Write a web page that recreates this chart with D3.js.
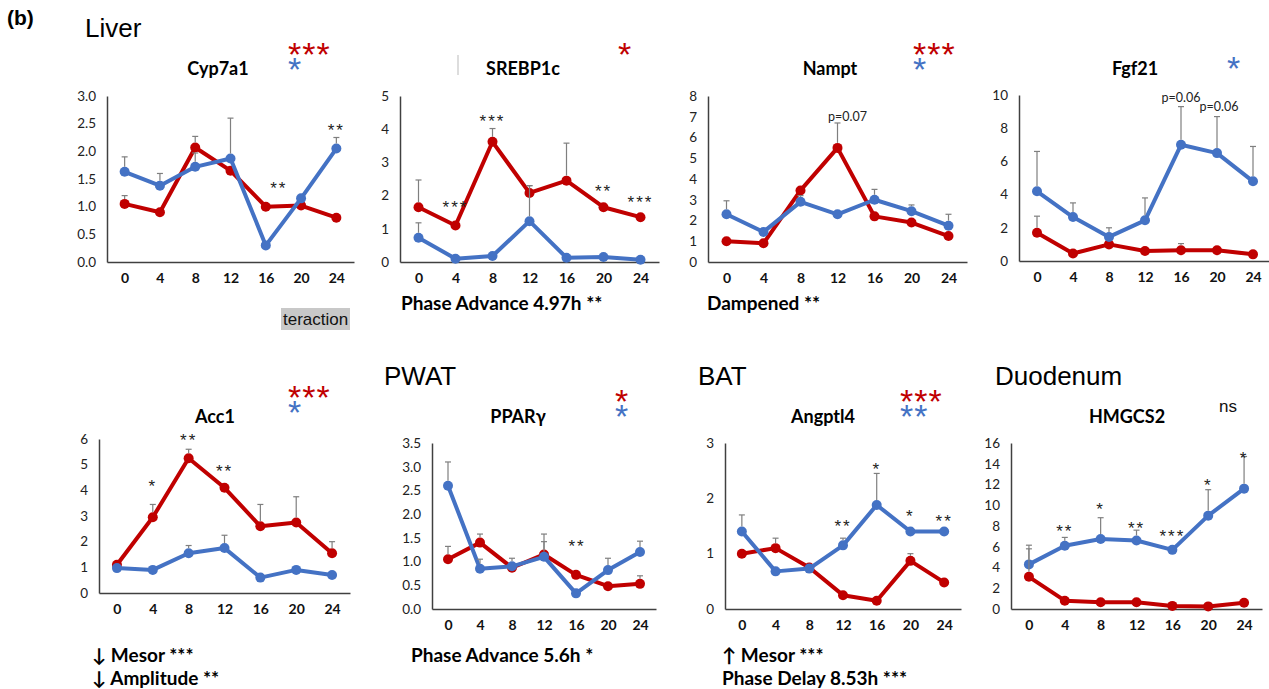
<!DOCTYPE html>
<html><head><meta charset="utf-8">
<script src="https://cdn.jsdelivr.net/npm/d3@7"></script>
<style>body{margin:0;background:#fff} svg{display:block}</style>
</head><body><svg id="c" width="1269" height="689"></svg>
<script>
// ---------- DATA ----------
const times = [0, 4, 8, 12, 16, 20, 24];

// Cyp7a1 (Liver)
const cyp7a1Red = [1.05, 0.90, 2.07, 1.65, 1.00, 1.02, 0.80];
const cyp7a1Blue = [1.63, 1.38, 1.72, 1.87, 0.30, 1.15, 2.05];
const cyp7a1RedErr = [0.15, 0.10, 0.20, 0.05, 0.07, 0.03, 0.05];
const cyp7a1BlueErr = [0.27, 0.22, 0.25, 0.73, 0, 0.08, 0.20];
const cyp7a1Ticks = [0, 0.5, 1.0, 1.5, 2.0, 2.5, 3.0];
const cyp7a1Sig = [[16, 1.4, "**", 13], [24, 2.44, "**", 0]];

// SREBP1c (Liver)
const srebpRed = [1.65, 1.10, 3.62, 2.08, 2.45, 1.65, 1.35];
const srebpBlue = [0.73, 0.10, 0.18, 1.23, 0.13, 0.15, 0.07];
const srebpRedErr = [0.82, 0.05, 0.40, 0.22, 1.13, 0.17, 0.12];
const srebpBlueErr = [0.45, 0, 0, 1.07, 0, 0, 0];
const srebpTicks = [0, 1, 2, 3, 4, 5];
const srebpSig = [[4, 1.75, "***", 0], [8, 4.34, "***", 0], [20, 2.23, "**", 0], [24, 1.9, "***", 0]];

// Nampt (Liver)
const namptRed = [1.00, 0.90, 3.45, 5.50, 2.20, 1.90, 1.25];
const namptBlue = [2.30, 1.45, 2.90, 2.30, 3.00, 2.45, 1.75];
const namptRedErr = [0.05, 0.05, 0.10, 1.20, 0.25, 0.05, 0.15];
const namptBlueErr = [0.65, 0.20, 0.30, 0.20, 0.50, 0.30, 0.55];
const namptTicks = [0, 1, 2, 3, 4, 5, 6, 7, 8];
const namptSig = [];
const namptP = [[12, 7.0, "p=0.07", 10]];

// Fgf21 (Liver)
const fgf21Red = [1.70, 0.45, 1.00, 0.60, 0.65, 0.65, 0.40];
const fgf21Blue = [4.20, 2.65, 1.45, 2.45, 7.00, 6.50, 4.80];
const fgf21RedErr = [1.00, 0.05, 0.10, 0.10, 0.40, 0.05, 0.05];
const fgf21BlueErr = [2.40, 0.85, 0.55, 1.35, 2.30, 2.20, 2.10];
const fgf21Ticks = [0, 2, 4, 6, 8, 10];
const fgf21Sig = [];
const fgf21P = [[16, 9.8, "p=0.06", 0], [20, 9.25, "p=0.06", 2]];

// Acc1 (Liver)
const acc1Red = [1.10, 2.95, 5.25, 4.10, 2.60, 2.75, 1.55];
const acc1Blue = [0.97, 0.90, 1.55, 1.75, 0.60, 0.90, 0.70];
const acc1RedErr = [0.20, 0.50, 0.35, 0.05, 0.85, 1.00, 0.45];
const acc1BlueErr = [0.05, 0.05, 0.30, 0.50, 0.20, 0.05, 0.15];
const acc1Ticks = [0, 1, 2, 3, 4, 5, 6];
const acc1Sig = [[4, 4.28, "*", 0], [8, 6.07, "**", 0], [12, 4.86, "**", 0]];

// PPARγ (PWAT)
const pparRed = [1.05, 1.40, 0.87, 1.15, 0.72, 0.48, 0.53];
const pparBlue = [2.60, 0.85, 0.90, 1.10, 0.33, 0.82, 1.20];
const pparRedErr = [0.27, 0.18, 0.05, 0.43, 0.03, 0.03, 0.17];
const pparBlueErr = [0.50, 0.20, 0.17, 0.32, 0, 0.25, 0.23];
const pparTicks = [0, 0.5, 1.0, 1.5, 2.0, 2.5, 3.0, 3.5];
const pparSig = [[16, 1.39, "**", 1]];

// Angptl4 (BAT)
const angRed = [1.00, 1.10, 0.75, 0.25, 0.15, 0.87, 0.48];
const angBlue = [1.40, 0.68, 0.73, 1.15, 1.88, 1.40, 1.40];
const angRedErr = [0.02, 0.18, 0.03, 0.02, 0.02, 0.13, 0.10];
const angBlueErr = [0.30, 0.09, 0.02, 0.13, 0.57, 0.02, 0.02];
const angTicks = [0, 1, 2, 3];
const angSig = [[12, 1.55, "**", 0], [16, 2.58, "*", 0], [20, 1.73, "*", 0], [24, 1.64, "**", 0]];

// HMGCS2 (Duodenum)
const hmgRed = [3.10, 0.80, 0.65, 0.65, 0.30, 0.25, 0.60];
const hmgBlue = [4.30, 6.10, 6.75, 6.60, 5.70, 9.00, 11.60];
const hmgRedErr = [2.70, 0.30, 0.10, 0.10, 0.05, 0.05, 0.10];
const hmgBlueErr = [1.85, 0.80, 2.05, 1.00, 0, 2.50, 3.10];
const hmgTicks = [0, 2, 4, 6, 8, 10, 12, 14, 16];
const hmgSig = [[4, 7.8, "**", 0], [8, 9.9, "*", 0], [12, 8.1, "**", 0], [16, 7.3, "***", 0], [20, 12.2, "*", 0], [24, 14.8, "*", 0]];

// ---------- STYLE / LAYOUT ----------
const RED = "#C00000", BLUE = "#4472C4", ERR = "#7f7f7f", AXIS = "#404040";
const svg = d3.select("#c");
const FONT = "Lato, 'Open Sans', sans-serif";
const ARIAL = "'Liberation Sans', Arial, sans-serif";

const panels = [
  {title: "Cyp7a1", red: cyp7a1Red, blue: cyp7a1Blue, rErr: cyp7a1RedErr, bErr: cyp7a1BlueErr, ticks: cyp7a1Ticks, fmt: ".1f", sig: cyp7a1Sig, p: [],
   x0: 107, x1: 354, yTop: 96, yBot: 262, titleX: 218, titleY: 75, redStars: "***", blueStars: "*", starX: 288},
  {title: "SREBP1c", red: srebpRed, blue: srebpBlue, rErr: srebpRedErr, bErr: srebpBlueErr, ticks: srebpTicks, fmt: "d", sig: srebpSig, p: [],
   x0: 400, x1: 659, yTop: 96, yBot: 262, titleX: 523, titleY: 75, redStars: "*", blueStars: "", starX: 618},
  {title: "Nampt", red: namptRed, blue: namptBlue, rErr: namptRedErr, bErr: namptBlueErr, ticks: namptTicks, fmt: "d", sig: namptSig, p: namptP,
   x0: 708, x1: 967, yTop: 96, yBot: 262, titleX: 830, titleY: 75, redStars: "***", blueStars: "*", starX: 913},
  {title: "Fgf21", red: fgf21Red, blue: fgf21Blue, rErr: fgf21RedErr, bErr: fgf21BlueErr, ticks: fgf21Ticks, fmt: "d", sig: fgf21Sig, p: fgf21P,
   x0: 1019, x1: 1271, yTop: 95, yBot: 261, titleX: 1135, titleY: 75, redStars: "", blueStars: "*", starX: 1227},
  {title: "Acc1", red: acc1Red, blue: acc1Blue, rErr: acc1RedErr, bErr: acc1BlueErr, ticks: acc1Ticks, fmt: "d", sig: acc1Sig, p: [],
   x0: 99, x1: 350, yTop: 439, yBot: 593, titleX: 215, titleY: 423, redStars: "***", blueStars: "*", starX: 288},
  {title: "PPARγ", red: pparRed, blue: pparBlue, rErr: pparRedErr, bErr: pparBlueErr, ticks: pparTicks, fmt: ".1f", sig: pparSig, p: [],
   x0: 432, x1: 656, yTop: 443, yBot: 609, titleX: 518, titleY: 423, redStars: "*", blueStars: "*", starX: 615},
  {title: "Angptl4", red: angRed, blue: angBlue, rErr: angRedErr, bErr: angBlueErr, ticks: angTicks, fmt: "d", sig: angSig, p: [],
   x0: 725, x1: 961, yTop: 443, yBot: 609, titleX: 823, titleY: 423, redStars: "***", blueStars: "**", starX: 900},
  {title: "HMGCS2", red: hmgRed, blue: hmgBlue, rErr: hmgRedErr, bErr: hmgBlueErr, ticks: hmgTicks, fmt: "d", sig: hmgSig, p: [],
   x0: 1011, x1: 1262, yTop: 443, yBot: 609, titleX: 1127, titleY: 423, redStars: "", blueStars: "", starX: 0}
];

panels.forEach((P, i) => {
  const g = svg.append("g");
  const x = d3.scalePoint().domain(times).range([P.x0, P.x1]).padding(0.5);
  const y = d3.scaleLinear().domain([P.ticks[0], P.ticks[P.ticks.length - 1]]).range([P.yBot, P.yTop]);

  // axes
  const ya = g.append("g").attr("transform", `translate(${P.x0},0)`)
    .call(d3.axisLeft(y).tickValues(P.ticks).tickFormat(d3.format(P.fmt)).tickSize(0).tickPadding(11));
  ya.select(".domain").attr("stroke", AXIS).attr("stroke-width", 1.5);
  ya.selectAll("text").attr("font-family", FONT).attr("font-size", 13.5).attr("fill", "#222");

  const xa = g.append("g").attr("transform", `translate(0,${P.yBot})`)
    .call(d3.axisBottom(x).tickSize(0).tickPadding(11).tickSizeOuter(0));
  xa.select(".domain").attr("stroke", AXIS).attr("stroke-width", 1.5);
  xa.selectAll("text").attr("font-family", FONT).attr("font-size", 14).attr("font-weight", "bold").attr("fill", "#111");

  // lines & markers
  const line = d3.line().x((d, j) => x(times[j])).y(d => y(d));
  [[P.red, RED], [P.blue, BLUE]].forEach(([vals, col]) => {
    g.append("path").datum(vals).attr("d", line).attr("fill", "none")
      .attr("stroke", col).attr("stroke-width", 4).attr("stroke-linejoin", "round");
    g.selectAll(null).data(vals).enter().append("circle")
      .attr("cx", (d, j) => x(times[j])).attr("cy", d => y(d)).attr("r", 5).attr("fill", col);
  });

  // error bars (upper only)
  [[P.red, P.rErr], [P.blue, P.bErr]].forEach(([vals, errs]) => {
    vals.forEach((v, j) => {
      if (!errs[j]) return;
      const cx = x(times[j]), yt = y(v + errs[j]), yb = y(v) - 5;
      if (yb - yt < 1) return;
      g.append("line").attr("x1", cx).attr("x2", cx).attr("y1", yb).attr("y2", yt).attr("stroke", ERR).attr("stroke-width", 1.2);
      g.append("line").attr("x1", cx - 3).attr("x2", cx + 3).attr("y1", yt).attr("y2", yt).attr("stroke", ERR).attr("stroke-width", 1.2);
    });
  });

  // significance marks (value = vertical centre of the asterisks)
  P.sig.forEach(([t, v, s, dx]) => {
    g.append("text").attr("x", x(t) + dx).attr("y", y(v) + 9).attr("text-anchor", "middle")
      .attr("font-family", ARIAL).attr("font-size", 17).attr("letter-spacing", 2).attr("fill", "#222").text(s);
  });
  P.p.forEach(([t, v, s, dx]) => {
    g.append("text").attr("x", x(t) + dx).attr("y", y(v) + 4).attr("text-anchor", "middle")
      .attr("font-family", FONT).attr("font-size", 12.5).attr("fill", "#222").text(s);
  });

  // title
  g.append("text").attr("x", P.titleX).attr("y", P.titleY).attr("text-anchor", "middle")
    .attr("font-family", FONT).attr("font-weight", "bold").attr("font-size", 18).attr("fill", "#000").text(P.title);

  // rhythm stars: one text element, red line and blue line as tspans
  if (P.redStars || P.blueStars) {
    const st = g.append("text").attr("font-family", ARIAL).attr("font-size", 34).attr("letter-spacing", 1);
    const base = P.yTop - 30;
    if (P.redStars) st.append("tspan").attr("x", P.starX).attr("y", base).attr("fill", RED).text(P.redStars);
    if (P.blueStars) st.append("tspan").attr("x", P.starX).attr("y", base + 15).attr("fill", BLUE).text(P.blueStars);
  }
});

// ns label for HMGCS2
svg.append("text").attr("x", 1219).attr("y", 412).attr("font-family", ARIAL).attr("font-size", 17).attr("fill", "#111").text("ns");

// section labels
svg.append("text").attr("x", 7).attr("y", 25).attr("font-family", ARIAL).attr("font-weight", "bold").attr("font-size", 21).text("(b)");
[["Liver", 85, 37], ["PWAT", 384, 385], ["BAT", 698, 385], ["Duodenum", 995, 385]].forEach(([t, xx, yy]) => {
  svg.append("text").attr("x", xx).attr("y", yy).attr("font-family", ARIAL).attr("font-size", 26).attr("fill", "#000").text(t);
});

// bottom notes
[["Phase Advance 4.97h **", 401, 310], ["Dampened **", 707, 310],
 ["↓ Mesor ***", 92, 662], ["↓ Amplitude **", 92, 685],
 ["Phase Advance 5.6h *", 411, 662],
 ["↑ Mesor ***", 722, 662], ["Phase Delay 8.53h ***", 722, 685]].forEach(([t, xx, yy]) => {
  svg.append("text").attr("x", xx).attr("y", yy).attr("font-family", FONT).attr("font-weight", "bold")
    .attr("font-size", 19).attr("fill", "#000").text(t);
});

// artifacts: cropped "teraction" label and small gray line
svg.append("rect").attr("x", 281).attr("y", 308).attr("width", 69).attr("height", 22).attr("fill", "#c8c8c8");
svg.append("text").attr("x", 283).attr("y", 325).attr("font-family", ARIAL).attr("font-size", 17).attr("fill", "#111").text("teraction");
svg.append("line").attr("x1", 458).attr("x2", 458).attr("y1", 55).attr("y2", 75).attr("stroke", "#bbb").attr("stroke-width", 1);
</script></body></html>
